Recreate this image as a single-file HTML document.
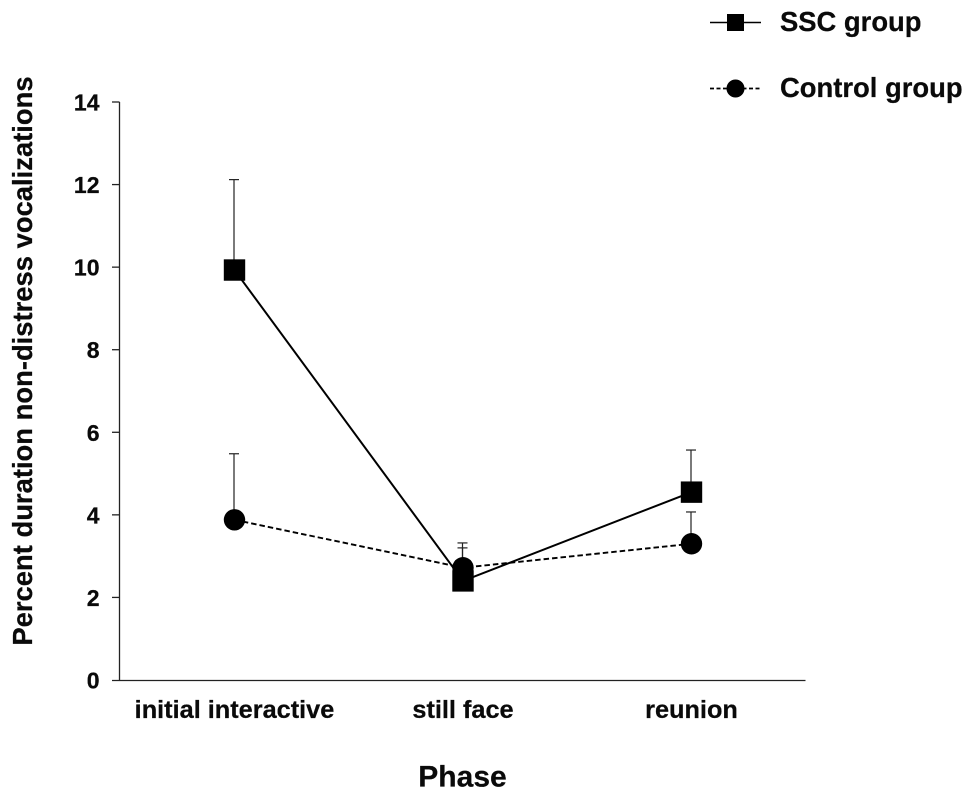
<!DOCTYPE html>
<html>
<head>
<meta charset="utf-8">
<style>
html,body{margin:0;padding:0;background:#fff;}
svg{display:block;}
text{font-family:"Liberation Sans",Arial,sans-serif;font-weight:bold;fill:#0a0a0a;stroke:#0a0a0a;stroke-width:0.25;}
</style>
</head>
<body>
<svg id="chart" xmlns="http://www.w3.org/2000/svg" width="974" height="798" viewBox="0 0 974 798">
<g id="axes"></g>
<g id="marks"></g>
<text x="462.5" y="786.5" text-anchor="middle" font-size="30">Phase</text>
<text transform="translate(32,361) rotate(-90)" text-anchor="middle" font-size="27.4">Percent duration non-distress vocalizations</text>
<g>
<g>
<line x1="710" y1="22.5" x2="761" y2="22.5" stroke="#000" stroke-width="1.6"/>
<rect x="727" y="14" width="17" height="17" fill="#000"/>
<text x="780" y="31" font-size="27.4">SSC group</text>
</g>
<g>
<line x1="710" y1="88.5" x2="761" y2="88.5" stroke="#000" stroke-width="1.7" stroke-dasharray="4 2.5"/>
<circle cx="735.5" cy="88.5" r="9" fill="#000"/>
<text x="780" y="97" font-size="27.4">Control group</text>
</g>
</g>
</svg>
<script>
var categories = ["initial interactive", "still face", "reunion"];
var yTickLabels = [0, 2, 4, 6, 8, 10, 12, 14];
var sscValues = [9.93, 2.4, 4.55];
var sscUpper = [12.12, 3.2, 5.57];
var controlValues = [3.88, 2.72, 3.3];
var controlUpper = [5.48, 3.32, 4.07];

var NS = "http://www.w3.org/2000/svg";
var axes = document.getElementById("axes");
var marks = document.getElementById("marks");
function yScale(v) { return 680 - v * (578 / 14); }
function xScale(i) { return 234.5 + i * 228.5; }
function mk(parent, tag, attrs) {
  var el = document.createElementNS(NS, tag);
  for (var k in attrs) el.setAttribute(k, attrs[k]);
  parent.appendChild(el);
  return el;
}

var yAxisLine = mk(axes, "line", {x1: 119.5, y1: yScale(14), x2: 119.5, y2: 680.5, stroke: "#222", "stroke-width": 1.3});


var xAxisLine = mk(axes, "line", {x1: 112, y1: 680.5, x2: 805.5, y2: 680.5, stroke: "#222", "stroke-width": 1.3});



yTickLabels.forEach(function (v) {
  var y = yScale(v);
  if (v > 0) {
    var t = mk(axes, "line", {x1: 112, y1: y, x2: 119.5, y2: y, stroke: "#222", "stroke-width": 1.3});
    
    
  }
  var l = mk(axes, "text", {x: 99.5, y: y + 8.5, "text-anchor": "end", "font-size": 23});
  l.textContent = v;
  
  
});

categories.forEach(function (c, i) {
  var l = mk(axes, "text", {x: xScale(i), y: 718, "text-anchor": "middle", "font-size": 25.3});
  l.textContent = c;
  
  
});

function pointsOf(values) {
  return values.map(function (v, i) { return xScale(i) + "," + yScale(v); }).join(" ");
}

function drawErrors(values, upper) {
  values.forEach(function (v, i) {
    var x = xScale(i) - 0.5;
    var stem = mk(marks, "line", {x1: x, y1: yScale(v), x2: x, y2: yScale(upper[i]), stroke: "#222", "stroke-width": 1.2});
    
    
    var cap = mk(marks, "line", {x1: x - 5, y1: yScale(upper[i]), x2: x + 5, y2: yScale(upper[i]), stroke: "#222", "stroke-width": 1.2});
    
    
  });
}

drawErrors(sscValues, sscUpper);
drawErrors(controlValues, controlUpper);

var controlLine = mk(marks, "polyline", {points: pointsOf(controlValues), fill: "none", stroke: "#000", "stroke-width": 1.9, "stroke-dasharray": "5.5 3"});


var sscLine = mk(marks, "polyline", {points: pointsOf(sscValues), fill: "none", stroke: "#000", "stroke-width": 2});



controlValues.forEach(function (v, i) {
  var c = mk(marks, "circle", {cx: xScale(i), cy: yScale(v), r: 10.7, fill: "#000"});
  
  
});
sscValues.forEach(function (v, i) {
  var r = mk(marks, "rect", {x: xScale(i) - 10.7, y: yScale(v) - 10.7, width: 21.4, height: 21.4, fill: "#000"});
  
  
});
</script>
</body>
</html>
